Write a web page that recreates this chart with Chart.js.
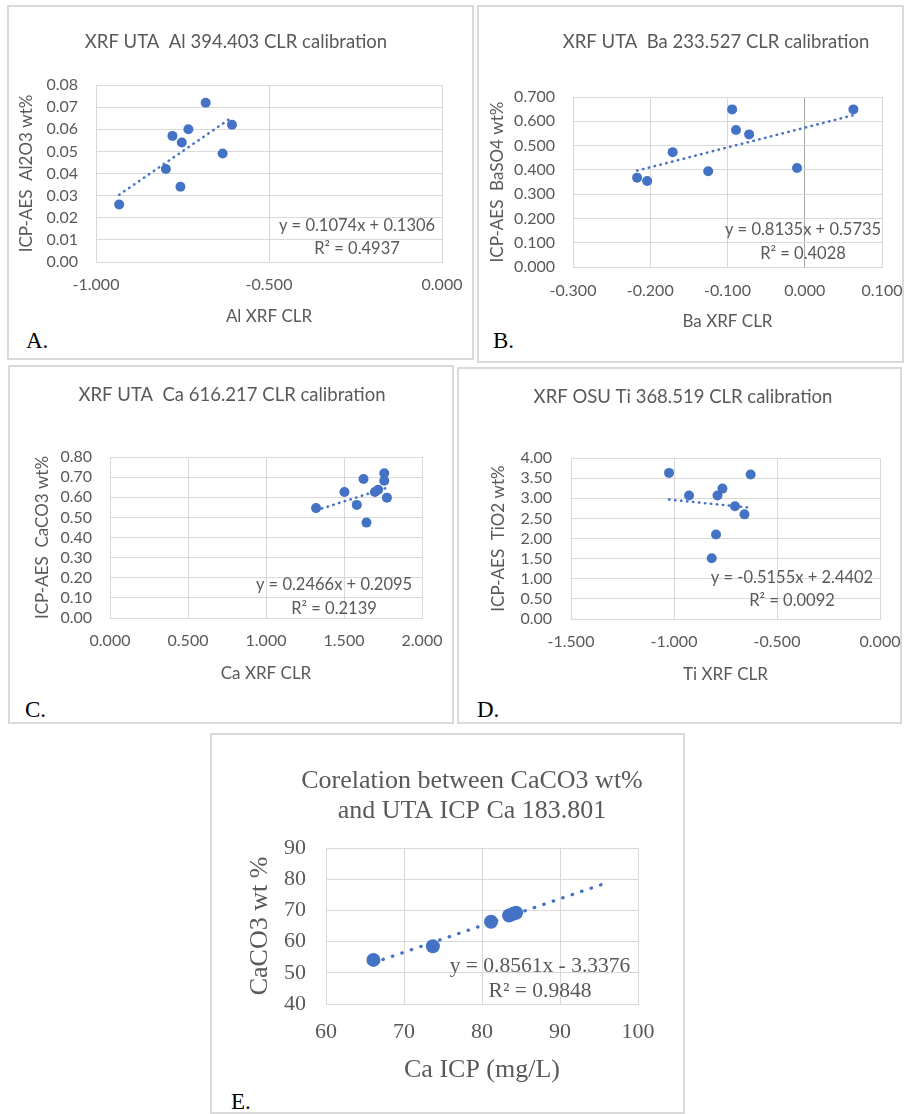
<!DOCTYPE html>
<html>
<head>
<meta charset="utf-8">
<script src="https://cdn.jsdelivr.net/npm/chart.js@4.4.1/dist/chart.umd.min.js"></script>
<style>
    body { margin: 0; background: #fff; width: 904px; height: 1114px; position: relative; overflow: hidden; }
    .box { position: absolute; border: 2px solid #dadada; box-sizing: border-box; }
    canvas { position: absolute; }
    .tag { position: absolute; font-family: 'Liberation Serif', 'Times New Roman', serif; font-size: 23px; color: #000; line-height: 1; }
</style>
</head>
<body>
<script>
// A. Al calibration
const alX = [-0.933, -0.798, -0.779, -0.752, -0.756, -0.733, -0.683, -0.634, -0.607];
const alY = [0.026, 0.042, 0.057, 0.054, 0.034, 0.060, 0.072, 0.049, 0.062];
const alTrendX = [-0.933, -0.607];
const alTrendY = [0.0304, 0.0654];

// B. Ba calibration
const baX = [-0.217, -0.204, -0.171, -0.125, -0.094, -0.089, -0.072, -0.010, 0.063];
const baY = [0.368, 0.354, 0.473, 0.394, 0.649, 0.564, 0.546, 0.408, 0.649];
const baTrendX = [-0.217, 0.063];
const baTrendY = [0.397, 0.625];

// C. Ca calibration
const caX = [1.321, 1.503, 1.582, 1.625, 1.644, 1.698, 1.719, 1.758, 1.758, 1.775];
const caY = [0.546, 0.626, 0.562, 0.691, 0.474, 0.626, 0.637, 0.719, 0.682, 0.598];
const caTrendX = [1.321, 1.775];
const caTrendY = [0.535, 0.647];

// D. Ti calibration
const tiX = [-1.024, -0.927, -0.817, -0.796, -0.789, -0.765, -0.704, -0.658, -0.628];
const tiY = [3.63, 3.07, 1.51, 2.10, 3.07, 3.24, 2.80, 2.60, 3.59];
const tiTrendX = [-1.024, -0.628];
const tiTrendY = [2.968, 2.764];

// E. CaCO3 vs ICP Ca
const icpX = [66.08, 73.70, 81.16, 83.47, 84.00, 84.37];
const icpY = [54.13, 58.52, 66.34, 68.37, 68.90, 69.23];
const icpTrendX = [66.08, 96.3];
const icpTrendY = [53.23, 79.11];

const BLUE = '#4472C4';
const GRID = '#d9d9d9';
const TEXT = '#595959';

const SANS = { family: 'Lato', tick: 16, axis: 17, title: 18.5, eq: 16.5 };
const SERIF = { family: 'Liberation Serif', tick: 22, axis: 26, title: 26, eq: 21.5 };

function pts(xs, ys) {
    return xs.map((x, i) => ({ x: x, y: ys[i] }));
}

// draws titles and trendline equations at fixed positions
function notesPlugin(items) {
    return {
        id: 'notes',
        afterDraw(chart) {
            const ctx = chart.ctx;
            ctx.save();
            ctx.textAlign = 'center';
            ctx.textBaseline = 'middle';
            items.forEach(n => {
                ctx.font = n.size + 'px "' + n.family + '"';
                ctx.fillStyle = TEXT;
                ctx.fillText(n.text, n.x, n.y);
            });
            ctx.restore();
        }
    };
}

function panel(p) {
    const [x0, y0, x1, y1] = p.box;
    const W = x1 - x0, H = y1 - y0;
    const [al, at, ar, ab] = p.area;
    const f = p.font;

    const box = document.createElement('div');
    box.className = 'box';
    box.style.left = x0 + 'px';
    box.style.top = y0 + 'px';
    box.style.width = W + 'px';
    box.style.height = H + 'px';
    document.body.appendChild(box);

    const tag = document.createElement('div');
    tag.className = 'tag';
    tag.textContent = p.tag;
    tag.style.left = p.tagPos[0] + 'px';
    tag.style.top = (p.tagPos[1] - 11) + 'px';
    document.body.appendChild(tag);

    const cv = document.createElement('canvas');
    cv.width = W;
    cv.height = H;
    cv.style.left = x0 + 'px';
    cv.style.top = y0 + 'px';
    cv.style.width = W + 'px';
    cv.style.height = H + 'px';
    document.body.appendChild(cv);

    const notes = [];
    p.title.forEach(t => notes.push({ text: t[0], x: t[1] - x0, y: t[2] - y0, size: f.title, family: f.family }));
    p.eq.forEach(t => notes.push({ text: t[0], x: t[1] - x0, y: t[2] - y0, size: f.eq, family: f.family }));

    const gridColor = ctx => (Math.abs(ctx.tick.value) < 1e-9 && p.zeroLine) ? '#a6a6a6' : GRID;

    new Chart(cv, {
        type: 'scatter',
        data: {
            datasets: [
                {
                    data: pts(p.xs, p.ys),
                    backgroundColor: BLUE,
                    borderColor: BLUE,
                    borderWidth: 0,
                    pointRadius: p.r,
                    pointHoverRadius: p.r,
                    order: 0
                },
                {
                    data: pts(p.tx, p.ty),
                    showLine: true,
                    borderColor: BLUE,
                    borderWidth: p.lw,
                    borderDash: p.dash,
                    borderCapStyle: 'round',
                    pointRadius: 0,
                    order: 1
                }
            ]
        },
        options: {
            responsive: false,
            animation: false,
            devicePixelRatio: 1,
            layout: { padding: { left: 0, top: at - y0, right: x1 - ar, bottom: 0 } },
            plugins: { legend: { display: false }, tooltip: { enabled: false } },
            scales: {
                x: {
                    type: 'linear',
                    min: p.xMin,
                    max: p.xMax,
                    ticks: {
                        stepSize: p.xStep,
                        autoSkip: false,
                        maxRotation: 0,
                        callback: v => v.toFixed(p.xDec),
                        font: { family: f.family, size: f.tick },
                        color: TEXT,
                        padding: p.xTickY - ab - f.tick * 0.6
                    },
                    grid: { color: gridColor, drawTicks: false, lineWidth: 1 },
                    border: { color: GRID },
                    title: {
                        display: true,
                        text: p.xTitle,
                        color: TEXT,
                        font: { family: f.family, size: f.axis },
                        padding: { top: 0, bottom: y1 - p.xTitleY - f.axis * 0.6 }
                    },
                    afterFit: s => { s.height = y1 - ab; s.paddingLeft = 0; s.paddingRight = 0; }
                },
                y: {
                    type: 'linear',
                    min: p.yMin,
                    max: p.yMax,
                    ticks: {
                        stepSize: p.yStep,
                        autoSkip: false,
                        callback: v => v.toFixed(p.yDec),
                        font: { family: f.family, size: f.tick },
                        color: TEXT,
                        padding: al - p.yTickR
                    },
                    grid: { color: GRID, drawTicks: false, lineWidth: 1 },
                    border: { color: GRID },
                    title: {
                        display: true,
                        text: p.yTitle,
                        color: TEXT,
                        font: { family: f.family, size: f.axis },
                        padding: { top: p.yTitleX - x0 - f.axis * 0.6, bottom: 0 }
                    },
                    afterFit: s => { s.width = al - x0; s.paddingTop = 0; s.paddingBottom = 0; }
                }
            }
        },
        plugins: [notesPlugin(notes)]
    });
}

document.addEventListener('DOMContentLoaded', () => {
    panel({
        tag: 'A.', tagPos: [26, 340],
        box: [7, 5, 474, 360], area: [96, 85, 442, 262], font: SANS,
        xs: alX, ys: alY, tx: alTrendX, ty: alTrendY, r: 5, lw: 2.5, dash: [0.5, 5.5],
        xMin: -1, xMax: 0, xStep: 0.5, xDec: 3, yMin: 0, yMax: 0.08, yStep: 0.01, yDec: 2,
        xTitle: 'Al XRF CLR', yTitle: 'ICP-AES  Al2O3 wt%',
        yTickR: 78, xTickY: 285, xTitleY: 317, yTitleX: 27,
        title: [['XRF UTA  Al 394.403 CLR calibration', 236, 42]],
        eq: [['y = 0.1074x + 0.1306', 357, 226], ['R² = 0.4937', 357, 249]]
    });
    panel({
        tag: 'B.', tagPos: [493, 340],
        box: [477, 5, 904, 363], area: [573, 97, 882, 267], font: SANS, zeroLine: true,
        xs: baX, ys: baY, tx: baTrendX, ty: baTrendY, r: 5, lw: 2.5, dash: [0.5, 5.5],
        xMin: -0.3, xMax: 0.1, xStep: 0.1, xDec: 3, yMin: 0, yMax: 0.7, yStep: 0.1, yDec: 3,
        xTitle: 'Ba XRF CLR', yTitle: 'ICP-AES  BaSO4 wt%',
        yTickR: 555, xTickY: 291, xTitleY: 322, yTitleX: 498,
        title: [['XRF UTA  Ba 233.527 CLR calibration', 716, 42]],
        eq: [['y = 0.8135x + 0.5735', 803, 230], ['R² = 0.4028', 803, 254]]
    });
    panel({
        tag: 'C.', tagPos: [25, 709],
        box: [8, 365, 454, 724], area: [110, 457, 422, 618], font: SANS,
        xs: caX, ys: caY, tx: caTrendX, ty: caTrendY, r: 5, lw: 2.5, dash: [0.5, 5.5],
        xMin: 0, xMax: 2, xStep: 0.5, xDec: 3, yMin: 0, yMax: 0.8, yStep: 0.1, yDec: 2,
        xTitle: 'Ca XRF CLR', yTitle: 'ICP-AES  CaCO3 wt%',
        yTickR: 92, xTickY: 641, xTitleY: 674, yTitleX: 43,
        title: [['XRF UTA  Ca 616.217 CLR calibration', 232, 395]],
        eq: [['y = 0.2466x + 0.2095', 334, 585], ['R² = 0.2139', 334, 609]]
    });
    panel({
        tag: 'D.', tagPos: [477, 709],
        box: [457, 367, 902, 724], area: [571, 458, 880, 619], font: SANS,
        xs: tiX, ys: tiY, tx: tiTrendX, ty: tiTrendY, r: 5, lw: 2.5, dash: [0.5, 5.5],
        xMin: -1.5, xMax: 0, xStep: 0.5, xDec: 3, yMin: 0, yMax: 4, yStep: 0.5, yDec: 2,
        xTitle: 'Ti XRF CLR', yTitle: 'ICP-AES  TiO2 wt%',
        yTickR: 552, xTickY: 642, xTitleY: 675, yTitleX: 499,
        title: [['XRF OSU Ti 368.519 CLR calibration', 683, 397]],
        eq: [['y = -0.5155x + 2.4402', 792, 578], ['R² = 0.0092', 792, 601]]
    });
    panel({
        tag: 'E.', tagPos: [231, 1101],
        box: [210, 733, 685, 1114], area: [326, 848, 638, 1004], font: SERIF,
        xs: icpX, ys: icpY, tx: icpTrendX, ty: icpTrendY, r: 7, lw: 3.3, dash: [0.5, 9.5],
        xMin: 60, xMax: 100, xStep: 10, xDec: 0, yMin: 40, yMax: 90, yStep: 10, yDec: 0,
        xTitle: 'Ca ICP (mg/L)', yTitle: 'CaCO3 wt %',
        yTickR: 306, xTickY: 1032, xTitleY: 1070, yTitleX: 260,
        title: [['Corelation between CaCO3 wt%', 472, 781], ['and UTA ICP Ca 183.801', 472, 811]],
        eq: [['y = 0.8561x - 3.3376', 540, 966], ['R² = 0.9848', 540, 991]]
    });
});
</script>
</body>
</html>
